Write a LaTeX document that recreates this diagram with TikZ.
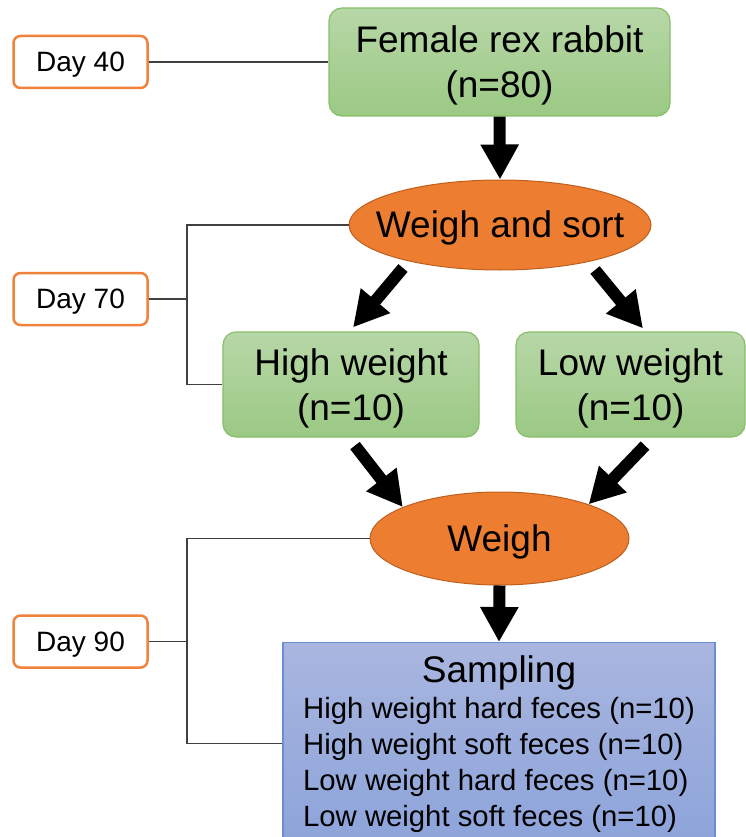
\documentclass[tikz,border=0pt]{standalone}
\usepackage{fontspec}
\setmainfont{Liberation Sans}
\usetikzlibrary{arrows.meta,shapes.geometric}
\definecolor{dayor}{RGB}{240,130,60}
\definecolor{grtop}{RGB}{183,215,167}
\definecolor{grbot}{RGB}{155,201,132}
\definecolor{grbd}{RGB}{135,190,105}
\definecolor{orfill}{RGB}{237,125,49}
\definecolor{orbd}{RGB}{190,95,30}
\definecolor{bltop}{RGB}{169,182,223}
\definecolor{blbot}{RGB}{140,163,218}
\definecolor{blbd}{RGB}{110,140,210}
\definecolor{thin}{RGB}{64,64,64}
\newcommand{\twoline}[2]{\raisebox{-4.5pt}[\height][\depth]{\begin{tabular}{@{}c@{}}#1\\#2\end{tabular}}}
\newcommand{\elltext}[1]{\raisebox{-3pt}[\height][\depth]{\makebox[0pt]{#1}}}
\tikzset{
  daybox/.style={draw=dayor, line width=2.5pt, fill=white, rounded corners=7pt,
    minimum width=134pt, minimum height=52pt, inner sep=0pt, text depth=0pt,
    font=\fontsize{28}{34}\selectfont},
  greenbox/.style={draw=grbd, line width=1.2pt, top color=grtop, bottom color=grbot,
    rounded corners=13pt, inner sep=0pt, font=\fontsize{37}{45}\selectfont},
  orell/.style={ellipse, draw=orbd, line width=1pt, fill=orfill, inner sep=0pt,
    font=\fontsize{37}{45}\selectfont},
  sampbox/.style={draw=blbd, line width=1.2pt, top color=bltop, bottom color=blbot,
    minimum width=432pt, inner xsep=0pt, inner ysep=13pt},
  bigarrow/.style={line width=12pt, -{Triangle[width=36pt,length=35pt]}},
  conn/.style={draw=thin, line width=1.3pt},
}
\begin{document}
\begin{tikzpicture}[x=1pt,y=1pt]
\useasboundingbox (0,0) rectangle (746,-837);
% day labels
\node[daybox] (d40) at (80.5,-62) {Day 40};
\node[daybox] (d70) at (80.5,-299) {Day 70};
\node[daybox] (d90) at (80.5,-641.5) {Day 90};
% main flow
\node[greenbox, minimum width=341pt, minimum height=108pt] (fem) at (499.5,-62) {\twoline{Female rex rabbit}{(n=80)}};
\node[orell, minimum width=302pt, minimum height=90pt] (ws) at (500,-225) {\elltext{Weigh and sort}};
\node[greenbox, minimum width=256pt, minimum height=105pt] (high) at (351,-384.5) {\twoline{High weight}{(n=10)}};
\node[greenbox, minimum width=229pt, minimum height=105pt] (low) at (630.5,-384.5) {\twoline{Low weight}{(n=10)}};
\node[orell, minimum width=259pt, minimum height=93pt] (weigh) at (499.5,-538.5) {\elltext{Weigh}};
\node[sampbox, anchor=north] (samp) at (499,-642) {%
  \fontsize{29.3}{36}\selectfont
  \begin{tabular}{@{}l@{}}
  \multicolumn{1}{@{}c@{}}{\fontsize{37}{45}\selectfont Sampling}\\
  High weight hard feces (n=10)\\
  High weight soft feces (n=10)\\
  Low weight hard feces (n=10)\\
  Low weight soft feces (n=10)
  \end{tabular}};
% arrows
\draw[bigarrow] (fem.south) -- (ws.north);
\draw[bigarrow] ([shift={(-97,-43)}]ws.center) -- ([shift={(2,4)}]high.north);
\draw[bigarrow] ([shift={(95,-45)}]ws.center) -- ([shift={(12.5,3)}]low.north);
\draw[bigarrow] ([shift={(4,-8)}]high.south) -- (weigh.162);
\draw[bigarrow] ([shift={(14.5,-8)}]low.south) -- (weigh.21);
\draw[bigarrow] (weigh.south) -- (samp.north);
% brackets
\coordinate (b70) at (187,-299);
\coordinate (b90) at (187,-641.5);
\draw[conn] (d40.east) -- (fem.west);
\draw[conn] (d70.east) -- (b70);
\draw[conn] (ws.west) -| (b70) |- (high.west);
\draw[conn] (d90.east) -- (b90);
\draw[conn] (weigh.west) -| (b90) |- ([yshift=3pt]samp.west);
\end{tikzpicture}
\end{document}
